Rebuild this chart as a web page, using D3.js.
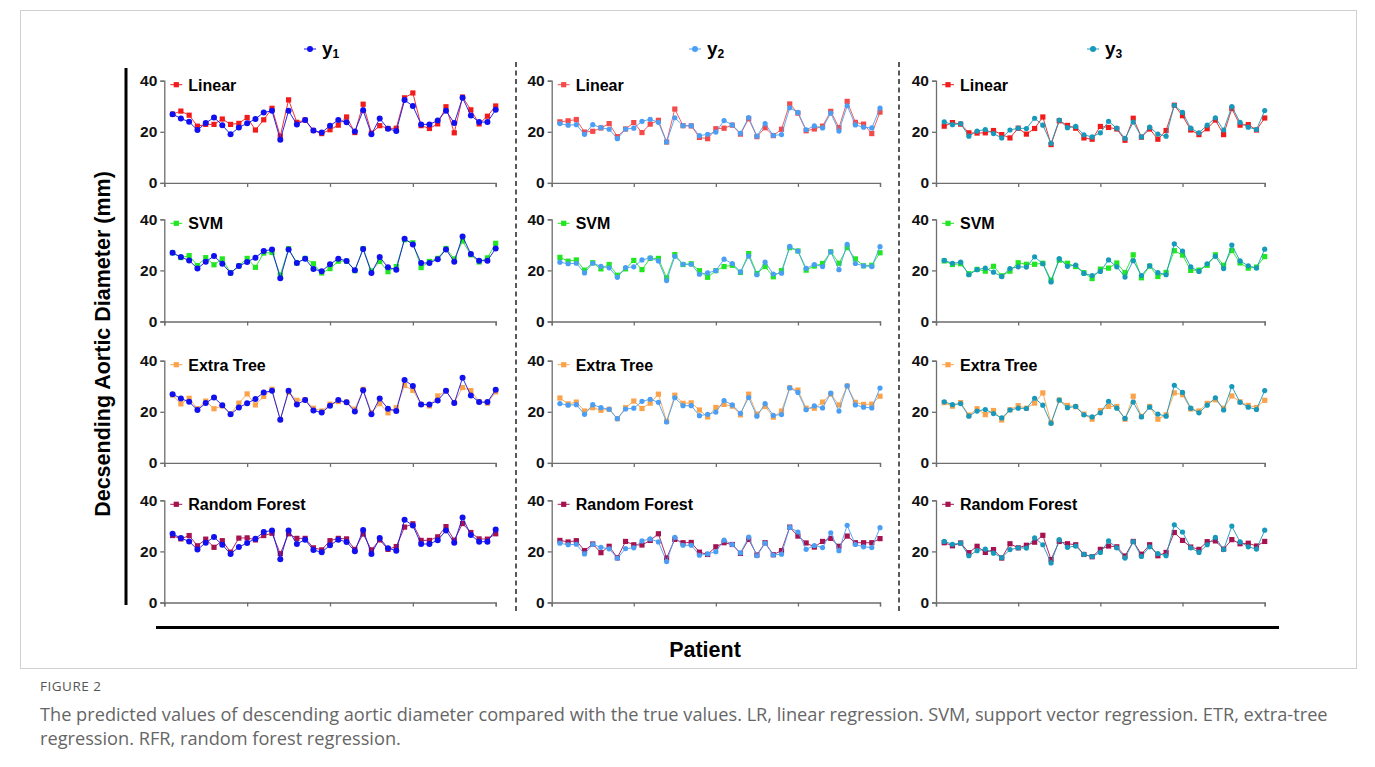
<!DOCTYPE html>
<html><head><meta charset="utf-8">
<script src="https://cdn.jsdelivr.net/npm/d3@7"></script>
<style>
body{margin:0;background:#fff;}
svg{display:block;}
</style></head>
<body>
<svg id="c" width="1375" height="767"></svg>
<script>
// ---------- DATA ----------
const patients = d3.range(1, 41);
const xTicks = [0, 10, 20, 30, 40];
const yTicks = [0, 20, 40];
const trueNames = ["y", "y", "y"];
const trueSubs = ["1", "2", "3"];
const modelNames = ["Linear", "SVM", "Extra Tree", "Random Forest"];

const y1 = [26.9,25.2,23.9,20.7,23.4,25.6,22.6,19.0,21.7,23.3,25.0,27.6,28.2,16.9,28.2,22.9,24.6,20.5,19.7,22.4,24.6,23.7,20.1,28.4,19.0,25.2,21.2,20.3,32.4,30.1,22.9,22.9,24.4,28.2,23.4,33.3,26.4,23.8,23.8,28.6];
const y2 = [23.2,22.6,22.8,19.0,22.8,21.6,21.0,17.3,21.1,21.4,24.1,24.9,23.7,16.0,25.5,22.4,22.4,18.5,19.0,19.9,24.4,22.7,19.4,25.6,18.3,23.2,18.6,18.9,29.4,27.6,20.8,22.3,21.5,27.3,20.3,30.2,22.7,21.8,21.5,29.3];
const y3 = [23.9,22.8,23.2,18.3,20.3,20.9,19.3,17.6,20.7,21.4,21.3,25.3,22.6,15.5,24.6,21.6,22.1,18.8,18.0,19.6,24.1,21.4,17.4,23.8,18.0,21.8,19.1,18.3,30.4,27.6,21.4,19.6,22.6,25.5,20.7,29.9,23.7,21.8,20.9,28.3];

const lr1  = [26.9,28.1,26.5,22.2,22.9,22.9,25.0,22.9,23.3,25.6,20.7,24.7,29.2,18.3,32.5,23.7,24.6,20.5,19.3,20.8,22.6,25.8,19.7,30.8,19.5,22.4,21.3,21.4,33.3,35.2,22.4,21.3,23.1,29.8,19.6,33.6,28.6,23.1,26.1,30.1];
const svm1 = [26.9,25.0,25.8,21.9,25.0,22.2,24.5,19.0,21.8,24.7,21.2,26.8,27.0,18.2,28.5,22.9,24.7,22.6,19.0,20.7,23.6,23.6,19.9,28.5,19.8,23.5,19.5,21.5,32.0,30.8,21.1,23.5,24.7,28.6,24.5,31.5,26.1,23.3,24.9,30.6];
const etr1 = [26.6,23.1,25.3,21.2,24.2,21.2,22.3,19.2,23.4,27.0,22.7,26.0,28.8,16.9,27.7,24.5,24.7,21.4,20.3,23.0,24.0,23.8,21.0,28.8,19.7,23.2,19.6,21.6,30.3,28.4,22.9,22.3,26.2,28.2,23.6,29.5,28.3,24.0,23.4,27.8];
const rfr1 = [26.2,24.9,26.2,22.2,24.8,21.6,24.2,19.7,25.2,25.3,24.5,26.2,27.1,19.1,26.9,25.1,25.1,21.4,20.6,24.2,25.1,24.9,20.8,26.8,20.6,24.5,20.8,21.9,29.5,30.8,24.3,24.3,25.7,29.7,24.4,30.9,27.4,24.9,24.8,26.9];

const lr2  = [23.9,24.3,24.8,19.9,20.2,21.5,23.2,18.1,21.1,23.6,19.7,23.0,24.5,16.0,28.9,22.4,22.3,17.8,17.3,21.2,21.4,22.6,19.1,25.1,18.1,21.6,18.5,21.0,30.9,27.3,20.4,21.1,22.2,28.0,21.6,31.9,23.7,23.0,19.3,27.7];
const svm2 = [25.1,23.6,24.1,20.1,23.0,20.6,22.3,18.1,20.6,23.9,20.3,24.7,24.7,17.1,26.2,22.3,22.6,19.9,17.3,19.9,21.5,22.0,19.2,26.6,18.8,21.5,17.5,19.9,28.9,27.6,20.1,21.7,22.7,27.3,22.8,28.9,24.5,21.8,22.0,26.9];
const etr2 = [25.4,23.1,23.8,20.3,21.6,20.6,21.0,17.3,21.6,24.2,21.3,23.4,26.9,16.3,26.5,23.3,23.5,20.7,18.0,21.7,22.9,22.2,18.8,26.9,19.1,22.1,17.9,20.3,29.4,28.5,21.4,21.4,23.8,26.9,22.7,30.1,23.7,22.9,23.0,26.1];
const rfr2 = [24.3,23.7,24.2,20.3,22.9,19.5,22.0,17.5,23.9,22.6,22.5,24.3,26.9,17.4,24.7,23.4,23.5,19.7,18.8,21.8,23.4,22.7,19.2,24.7,18.6,23.4,18.7,20.3,29.5,26.0,23.3,21.7,23.9,25.1,22.0,26.0,23.4,23.4,23.4,25.0];

const lr3  = [22.2,23.6,23.0,19.6,19.5,19.6,20.5,18.9,17.6,21.4,19.1,21.3,25.8,15.0,24.3,22.5,21.4,17.6,17.1,22.1,21.7,21.1,16.7,25.3,17.9,21.1,17.1,20.5,30.4,26.3,20.7,18.9,21.2,24.6,18.9,29.1,22.6,22.8,20.7,25.4];
const svm3 = [23.7,22.3,22.6,18.7,20.4,19.7,21.6,17.9,19.7,23.0,22.4,22.4,22.8,16.2,24.0,22.8,21.5,19.1,16.8,20.5,20.9,22.9,19.1,26.1,17.1,21.7,17.6,19.2,27.7,26.0,20.0,20.1,22.0,26.1,22.0,27.8,22.9,20.9,21.3,25.4];
const etr3 = [23.6,22.2,23.6,18.7,21.2,18.9,20.5,16.8,20.8,22.4,21.4,23.4,27.4,15.7,24.6,22.5,22.0,19.1,17.1,20.5,22.1,22.1,17.1,26.1,18.2,22.1,17.1,18.8,27.4,26.7,21.1,20.3,23.3,24.7,21.4,26.2,23.9,22.5,21.7,24.5];
const rfr3 = [23.4,22.2,23.3,19.5,22.0,19.6,20.7,17.4,23.0,21.4,22.4,23.6,26.3,16.8,23.9,23.0,22.6,18.8,17.9,20.8,22.1,21.8,18.2,23.9,18.9,22.6,18.3,19.6,27.4,24.3,21.7,20.8,23.8,24.1,20.9,24.6,23.0,23.2,22.1,23.9];

const trueSeries = [y1, y2, y3];
const predSeries = [[lr1, svm1, etr1, rfr1], [lr2, svm2, etr2, rfr2], [lr3, svm3, etr3, rfr3]];

// ---------- STYLE / LAYOUT ----------
const trueColors = ["#1010f0", "#4a9ff5", "#1699bb"];
const trueR = [3, 2.6, 2.6];
const predColorsByCol = [
  ["#f21b1b", "#22e622", "#fba34b", "#a5124f"],
  ["#f44a4a", "#22e622", "#fba34b", "#a5124f"],
  ["#f21b1b", "#22e622", "#fba34b", "#a5124f"]
];
const colX = [164.3, 551.7, 936];
const colW = [331.4, 328.3, 328.7];
const rowTop = [80.7, 219.3, 360.7, 500.3];
const rowH = 102.2;
const headerX = [310, 695, 1093];
const FONT = "Arial, 'Liberation Sans', Helvetica, sans-serif";

const svg = d3.select("#c");

// figure frame
svg.append("rect").attr("x", 20.5).attr("y", 10.5).attr("width", 1336).attr("height", 658)
  .attr("fill", "none").attr("stroke", "#d0d0d0").attr("stroke-width", 1);

// structural lines
svg.append("line").attr("x1", 126).attr("x2", 126).attr("y1", 68).attr("y2", 605)
  .attr("stroke", "#000").attr("stroke-width", 3);
[516, 899].forEach(x => svg.append("line").attr("x1", x).attr("x2", x).attr("y1", 62).attr("y2", 613)
  .attr("stroke", "#000").attr("stroke-width", 1.3).attr("stroke-dasharray", "5,3.5"));
svg.append("line").attr("x1", 156).attr("x2", 1279).attr("y1", 627.5).attr("y2", 627.5)
  .attr("stroke", "#000").attr("stroke-width", 3);

svg.append("text").attr("transform", "translate(110,344) rotate(-90)")
  .attr("text-anchor", "middle").attr("font-family", FONT).attr("font-weight", "bold")
  .attr("font-size", 21.5).attr("fill", "#000").text("Decsending Aortic Diameter (mm)");
svg.append("text").attr("x", 705).attr("y", 657).attr("text-anchor", "middle")
  .attr("font-family", FONT).attr("font-weight", "bold").attr("font-size", 21.5)
  .attr("fill", "#000").text("Patient");

// column headers
trueSeries.forEach((s, c) => {
  const g = svg.append("g").attr("transform", `translate(${headerX[c]},49)`);
  g.append("line").attr("x1", -6).attr("x2", 6).attr("stroke", trueColors[c]).attr("stroke-width", 1);
  g.append("circle").attr("r", 3).attr("fill", trueColors[c]);
  const t = g.append("text").attr("x", 12).attr("y", 6).attr("font-family", FONT)
    .attr("font-weight", "bold").attr("font-size", 19).attr("fill", "#000");
  t.append("tspan").text(trueNames[c]);
  t.append("tspan").attr("font-size", 12).attr("dy", 3).text(trueSubs[c]);
});

// panels
trueSeries.forEach((truth, c) => {
  const x = d3.scaleLinear().domain([0, 40]).range([colX[c], colX[c] + colW[c]]);
  predSeries[c].forEach((pred, r) => {
    const col = predColorsByCol[c][r];
    const y = d3.scaleLinear().domain([0, 40]).range([rowTop[r] + rowH, rowTop[r]]);
    const g = svg.append("g");
    const ax = g.append("g").attr("transform", `translate(0,${rowTop[r] + rowH})`)
      .call(d3.axisBottom(x).tickValues(xTicks).tickSize(4).tickFormat(""));
    const ay = g.append("g").attr("transform", `translate(${colX[c]},0)`)
      .call(d3.axisLeft(y).tickValues(yTicks).tickSize(4).tickPadding(3));
    [ax, ay].forEach(a => {
      a.select(".domain").attr("stroke", "#6e6e6e").attr("stroke-width", 1.3);
      a.selectAll(".tick line").attr("stroke", "#6e6e6e").attr("stroke-width", 1.3);
    });
    ay.selectAll(".tick text").attr("font-family", FONT).attr("font-weight", "bold")
      .attr("font-size", 15.5).attr("fill", "#111");

    const line = d3.line().x((d, i) => x(patients[i])).y(d => y(d));
    g.append("path").datum(pred).attr("d", line).attr("fill", "none")
      .attr("stroke", col).attr("stroke-width", 1).attr("opacity", 0.9);
    g.selectAll(".p").data(pred).join("rect")
      .attr("x", (d, i) => x(patients[i]) - 2.6).attr("y", d => y(d) - 2.6)
      .attr("width", 5.2).attr("height", 5.2).attr("fill", col);
    g.append("path").datum(truth).attr("d", line).attr("fill", "none")
      .attr("stroke", trueColors[c]).attr("stroke-width", 1).attr("opacity", 0.9);
    g.selectAll(".t").data(truth).join("circle")
      .attr("cx", (d, i) => x(patients[i])).attr("cy", d => y(d))
      .attr("r", trueR[c]).attr("fill", trueColors[c]);

    const lg = g.append("g").attr("transform", `translate(${colX[c] + 12},${rowTop[r] + 4})`);
    lg.append("line").attr("x1", -6).attr("x2", 6).attr("stroke", col).attr("stroke-width", 1);
    lg.append("rect").attr("x", -2.6).attr("y", -2.6).attr("width", 5.2).attr("height", 5.2)
      .attr("fill", col);
    lg.append("text").attr("x", 12).attr("y", 5.8).attr("font-family", FONT)
      .attr("font-weight", "bold").attr("font-size", 16).attr("fill", "#000").text(modelNames[r]);
  });
});

// caption
const CAP = "'Open Sans', 'Noto Sans', sans-serif";
svg.append("text").attr("x", 40).attr("y", 691).attr("font-family", CAP).attr("font-size", 13.5)
  .attr("letter-spacing", 0.5).attr("fill", "#555").text("FIGURE 2");
svg.append("text").attr("x", 40).attr("y", 721).attr("font-family", CAP).attr("font-size", 18.2)
  .attr("fill", "#666").text("The predicted values of descending aortic diameter compared with the true values. LR, linear regression. SVM, support vector regression. ETR, extra-tree");
svg.append("text").attr("x", 40).attr("y", 745).attr("font-family", CAP).attr("font-size", 18.2)
  .attr("fill", "#666").text("regression. RFR, random forest regression.");
</script>
</body></html>
